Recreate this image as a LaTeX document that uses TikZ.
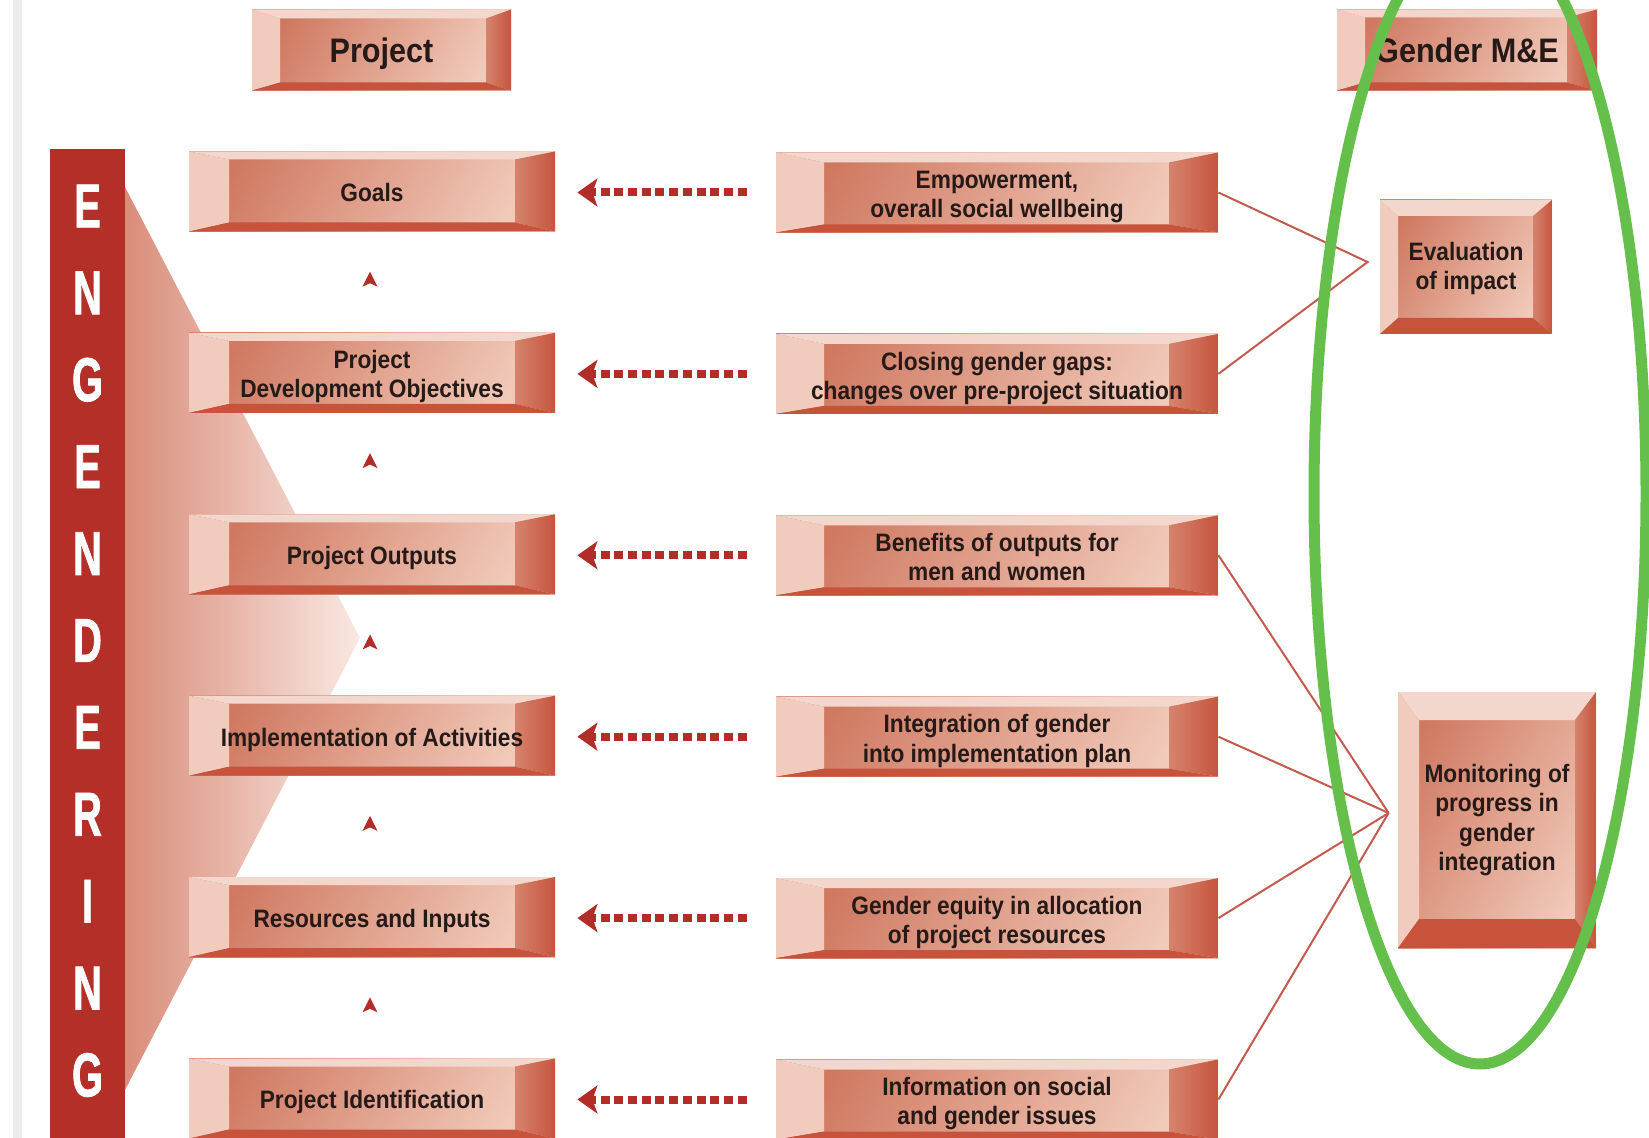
\documentclass[tikz,border=0pt]{standalone}
\usepackage{fontspec}
\setmainfont{Liberation Sans}[FakeStretch=0.9]
\newfontfamily\barfont{Liberation Sans}[FakeStretch=0.64, FakeBold=1.2]
\usetikzlibrary{arrows.meta, positioning, calc}
\definecolor{barRed}    {HTML}{B52F29}
\definecolor{tipRed}    {HTML}{B22D28}
\definecolor{linkRed}   {HTML}{C45A4E}
\definecolor{bvTop}     {HTML}{F4D7CC}
\definecolor{bvLeft}    {HTML}{F1CCBE}
\definecolor{bvRightA}  {HTML}{D6836C}
\definecolor{bvRightB}  {HTML}{C6553F}
\definecolor{bvBot}     {HTML}{C7533D}
\definecolor{faceDark}  {HTML}{D07961}
\definecolor{faceLight} {HTML}{F1CABA}
\definecolor{funnelDark}{HTML}{D98D7A}
\definecolor{funnelPale}{HTML}{F9E8E2}
\definecolor{inkText}   {HTML}{251A17}
\definecolor{ringGreen} {HTML}{65C04B}
\definecolor{edgeGrey}  {HTML}{EDEDED}

% lowered text stack, keeps its own height and depth
\newcommand\boxtext[2]{\raisebox{-#1}[\height][\depth]{\begin{tabular}{@{}c@{}}#2\end{tabular}}}

\tikzset{
  bevel/.style n args={4}{
    left color=faceDark, right color=faceLight, shading angle=60,
    path picture={
      \coordinate (nw) at (path picture bounding box.north west);
      \coordinate (ne) at (path picture bounding box.north east);
      \coordinate (sw) at (path picture bounding box.south west);
      \coordinate (se) at (path picture bounding box.south east);
      \fill[bvTop] (nw) -- (ne) -- ($(ne)+(-#2,#3)$) -- ($(nw)+(#1,#3)$) -- cycle;
      \fill[bvLeft] (nw) -- ($(nw)+(#1,#3)$) -- ($(sw)+(#1,-#4)$) -- (sw) -- cycle;
      \shade[left color=bvRightA, right color=bvRightB]
        (ne) -- (se) -- ($(se)+(-#2,-#4)$) -- ($(ne)+(-#2,#3)$) -- cycle;
      \fill[bvBot] (sw) -- (se) -- ($(se)+(-#2,-#4)$) -- ($(sw)+(#1,-#4)$) -- cycle;
    }
  }
}

\begin{document}
\begin{tikzpicture}[
    x=0.5pt, y=-0.5pt,
    every node/.style={font=\fontsize{12.6}{14.6}\selectfont\bfseries, text=inkText,
                       align=center, inner sep=0pt},
    lbox/.style={bevel={40}{40}{8}{9}, minimum width=183pt, minimum height=40pt},
    mbox/.style={bevel={48}{49}{10}{8}, minimum width=221pt, minimum height=40pt},
    head/.style={font=\fontsize{17}{19}\selectfont\bfseries, minimum height=40.5pt,
                 text height=12.5pt, text depth=0pt},
    bar/.style={fill=barRed, minimum width=37.5pt, minimum height=496pt},
    barletter/.style={font=\barfont\fontsize{31}{31}\selectfont\bfseries, text=white},
    dotarr/.style={tipRed, line width=4pt, dash pattern=on 4.5pt off 2.35pt,
                   -{Stealth[length=10pt, width=14pt, inset=2.5pt]},
                   shorten <=14.5pt, shorten >=11pt},
    link/.style={linkRed, line width=1pt},
    ring/.style={ringGreen, line width=5.5pt}
]
\useasboundingbox (0,0) rectangle (1649,1138);
\clip (0,0) rectangle (1649,1138);
\fill[edgeGrey] (13,0) rectangle (22,1138);

% Engendering bar
\shade[left color=funnelDark, right color=funnelPale] (125,187) -- (360,638) -- (125,1090) -- cycle;
\node[bar] (bar) at (87.5,645) {};
\foreach \i/\c in {0/E, 1/N, 2/G, 3/E, 4/N, 5/D, 6/E, 7/R, 8/I, 9/N, 10/G} {
    \node[barletter] (ltr\i) at (87.5, {206+86.9*\i}) {\c};
}

% Headers
\node[head, bevel={28}{25}{9}{8}, minimum width=129.5pt] (project) at (381.5,50) {Project};
\node[head, bevel={28}{30}{8}{8}, minimum width=130pt] (genderme) at (1467,50) {Gender M\&E};

% Project column
\foreach \i/\t in {0/{Goals}, 1/{Project\\Development Objectives}, 2/{Project Outputs},
                   3/{Implementation of Activities}, 4/{Resources and Inputs},
                   5/{Project Identification}} {
    \node[lbox] (lft\i) at (372, {191.5+181.4*\i}) {\boxtext{2.25pt}{\t}};
}
% Gender column
\foreach \i/\t in {0/{Empowerment,\\overall social wellbeing},
                   1/{Closing gender gaps:\\changes over pre-project situation},
                   2/{Benefits of outputs for\\men and women},
                   3/{Integration of gender\\into implementation plan},
                   4/{Gender equity in allocation\\of project resources},
                   5/{Information on social\\and gender issues}} {
    \node[mbox] (mid\i) at (997, {192.5+181.4*\i}) {\boxtext{2.5pt}{\t}};
}

% M&E boxes
\node[bevel={18}{19}{16}{16}, minimum width=86pt, minimum height=67pt] (eval) at (1466,267)
    {\boxtext{1.25pt}{Evaluation\\of impact}};
\node[bevel={21}{21}{28}{29}, minimum width=99pt, minimum height=128pt] (monit) at (1497,820)
    {Monitoring of\\progress in\\gender\\integration};

% Dotted arrows between columns
\foreach \i in {0,...,5} {
    \draw[dotarr] (mid\i.west) -- (mid\i.west -| lft\i.east);
}
% Small up tips between project steps
\foreach \i [evaluate=\i as \j using int(\i+1)] in {0,...,4} {
    \path (lft\j.north) -- coordinate[pos=0.5] (up\i) (lft\i.south);
    \fill[tipRed] ($(up\i)+(-2,-10.5)$) -- ++(-7.5,15) -- ++(7.5,-3.5) -- ++(7.5,3.5) -- cycle;
}

% Links to M&E
\coordinate (evtip) at ($(eval.west)+(-12,-5)$);
\coordinate (montip) at ($(monit.west)+(-9,-7)$);
\draw[link] (mid0.east) -- (evtip) -- (mid1.east);
\foreach \i in {2,...,5} {
    \draw[link] (mid\i.east) -- (montip);
}

\draw[ring] (1480,494) ellipse [x radius=83pt, y radius=285pt];
\end{tikzpicture}
\end{document}
